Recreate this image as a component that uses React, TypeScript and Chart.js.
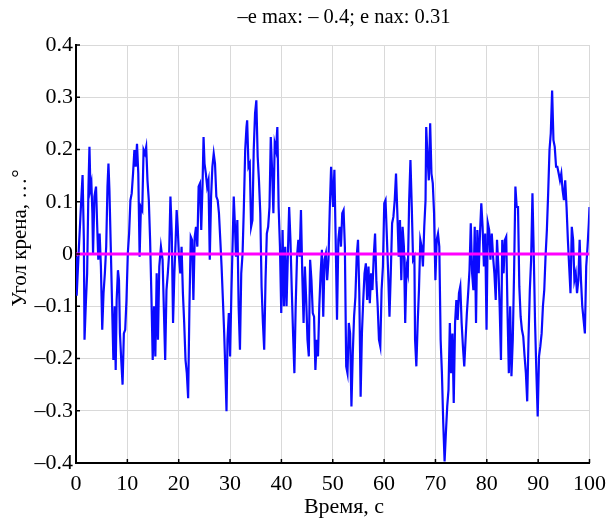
import React, { useEffect, useRef } from "react";
import { Chart, registerables } from "chart.js";

Chart.register(...registerables);

const TITLE = "–e max: – 0.4; e nax: 0.31";
const X_LABEL = "Время, с";
const Y_LABEL = "Угол крена, …°";

const xTickValues = [0, 10, 20, 30, 40, 50, 60, 70, 80, 90, 100];
const xTickLabels = ["0", "10", "20", "30", "40", "50", "60", "70", "80", "90", "100"];
const yTickValues = [-0.4, -0.3, -0.2, -0.1, 0, 0.1, 0.2, 0.3, 0.4];
const yTickLabels = ["–0.4", "–0.3", "–0.2", "–0.1", "0", "0.1", "0.2", "0.3", "0.4"];

// reference (zero) level
const refTime = [0, 100];
const refLevel = [0, 0];

// time, s
const time = [
  0, 0.13, 0.57, 1.02, 1.28, 1.53, 1.66, 1.92, 2.17, 2.43,
  2.62, 2.81, 3.0, 3.19, 3.32, 3.58, 3.9, 4.09, 4.34, 4.6,
  4.85, 5.11, 5.36, 5.62, 5.88, 6.13, 6.32, 6.51, 6.77, 7.02,
  7.28, 7.54, 7.73, 7.92, 8.17, 8.37, 8.56, 8.81, 9.07, 9.32,
  9.58, 9.83, 10.09, 10.34, 10.6, 10.85, 11.11, 11.37, 11.62, 11.88,
  12.13, 12.39, 12.64, 12.9, 13.16, 13.41, 13.67, 13.92, 14.18, 14.43,
  14.69, 14.94, 15.2, 15.45, 15.71, 15.96, 16.22, 16.54, 16.86,
  17.37, 17.62, 17.88, 18.14, 18.39, 18.65, 18.9, 19.16, 19.41, 19.6,
  19.8, 20.05, 20.31, 20.56, 20.82, 21.07, 21.33, 21.58, 21.84, 22.09,
  22.35, 22.61, 22.86, 23.12, 23.37, 23.63, 23.88, 24.14, 24.39, 24.65,
  24.84, 25.03, 25.29, 25.54, 25.8, 26.05, 26.31, 26.56, 26.82, 27.07,
  27.33, 27.59, 27.84, 28.1, 28.35, 28.61, 28.86, 29.12, 29.31, 29.5,
  29.76, 30.01, 30.27, 30.52, 30.72, 30.91, 31.16, 31.42, 31.67, 31.93,
  32.18, 32.44, 32.69, 32.95, 33.2,
  33.33, 33.59, 33.84, 34.1, 34.36, 34.61, 34.87, 35.12, 35.38, 35.63,
  35.89, 36.14, 36.4, 36.65, 36.91, 37.16, 37.42, 37.68, 37.93, 38.19,
  38.44, 38.7, 38.95, 39.21, 39.46, 39.72, 39.97, 40.23, 40.49, 40.74,
  41.0, 41.25, 41.51, 41.76, 42.02, 42.27, 42.53, 42.78, 43.04, 43.3,
  43.55, 43.81, 44.06, 44.32, 44.57, 44.83, 45.08, 45.34, 45.59, 45.85,
  46.11, 46.36, 46.62, 46.87, 47.13, 47.38, 47.64, 47.89, 48.15, 48.4,
  48.66, 48.91, 49.17, 49.43, 49.68,
  50.06, 50.32, 50.57, 50.83, 51.09, 51.34, 51.6, 51.85, 52.11, 52.36,
  52.62, 52.87, 53.13, 53.38, 53.64, 53.9, 54.15, 54.41, 54.66, 54.92,
  55.17, 55.43, 55.68, 55.94, 56.19, 56.45, 56.7, 56.96, 57.22, 57.47,
  57.73, 57.98, 58.24, 58.49, 58.75, 59.0, 59.26, 59.51, 59.77, 60.03,
  60.28, 60.54, 60.79, 61.05, 61.3, 61.56, 61.81, 62.07, 62.32, 62.58,
  62.84, 63.09, 63.35, 63.6, 63.86, 64.11, 64.37, 64.62, 64.88, 65.13,
  65.39, 65.64, 65.9,
  66.03, 66.28, 66.54, 66.79, 67.05, 67.3, 67.56, 67.82, 68.07, 68.2,
  68.45, 68.71, 68.97, 69.22, 69.48, 69.73, 69.99, 70.24, 70.5, 70.75,
  71.01, 71.26, 71.52, 71.78, 72.03, 72.29, 72.54, 72.8, 73.05, 73.31,
  73.56, 73.82, 74.07, 74.33, 74.58, 74.84, 75.1, 75.35, 75.61, 75.86,
  76.12, 76.37, 76.63, 76.88, 77.14, 77.39, 77.65, 77.9, 78.16, 78.42,
  78.67, 78.93, 79.18, 79.44, 79.69, 79.95, 80.2, 80.46, 80.71, 80.97,
  81.22, 81.48, 81.74, 81.99, 82.25, 82.5, 82.76,
  83.01, 83.27, 83.52, 83.78, 84.04, 84.29, 84.55, 84.8, 85.06, 85.31,
  85.57, 85.82, 86.08, 86.33, 86.59, 86.84, 87.1, 87.36, 87.61, 87.87,
  88.12, 88.38, 88.63, 88.89, 89.14, 89.4, 89.66, 89.91, 90.17, 90.42,
  90.68, 90.93, 91.19, 91.44, 91.7, 91.95, 92.21, 92.46, 92.72, 92.98,
  93.23, 93.49, 93.74, 94.0, 94.25, 94.51, 94.76, 95.02, 95.27, 95.53,
  95.79, 96.04, 96.3, 96.55, 96.81, 97.06, 97.32, 97.57, 97.83, 98.08,
  98.34, 98.59, 98.85, 99.1, 99.36, 99.62, 99.87, 100,
];

// roll angle
const roll = [
  -0.005, -0.08, 0.014, 0.103, 0.151, 0.027, -0.164, -0.094, -0.037, 0.129,
  0.205, 0.125, 0.135, 0.078, 0.001, 0.11, 0.129, 0.065, -0.011, 0.039,
  -0.024, -0.145, -0.075, -0.037, 0.014, 0.129, 0.173, 0.122, 0.014, -0.094,
  -0.203, -0.1, -0.222, -0.088, -0.031, -0.05, -0.152, -0.203, -0.25, -0.152,
  -0.145, -0.088, 0.001, 0.039, 0.103, 0.116, 0.154, 0.199, 0.167, 0.211,
  0.154, -0.005, 0.09, 0.084, 0.199, 0.192, 0.205, 0.141, 0.103, 0.027,
  -0.082, -0.203, -0.1, -0.196, -0.037, -0.164, -0.024, 0.014, -0.011,
  -0.203, -0.069, -0.037, 0.001, 0.11, 0.039, -0.132, -0.037, 0.027, 0.084,
  0.052, -0.005, -0.037, 0.014, -0.075, -0.132, -0.203, -0.228, -0.276, -0.1,
  0.033, 0.027, -0.088, 0.033, 0.052, 0.014, 0.129, 0.135, 0.046, 0.135,
  0.224, 0.173, 0.154, 0.129, 0.141, -0.011, 0.11, 0.167, 0.192, 0.173,
  0.11, 0.103, 0.078, 0.027, -0.024, -0.088, -0.152, -0.234, -0.301, -0.164,
  -0.113, -0.196, -0.069, 0.027, 0.11, 0.065, -0.005, 0.065, -0.1, -0.183,
  -0.037, 0.001, 0.09, 0.199, 0.243,
  0.256, 0.167, 0.173, 0.052, 0.065, 0.199, 0.269, 0.294, 0.186, 0.141,
  0.078, -0.062, -0.132, -0.183, -0.05, 0.039, 0.052, 0.09, 0.224, 0.16,
  0.078, 0.211, 0.199, 0.243, 0.09, 0.014, -0.113, 0.046, -0.1, 0.014,
  -0.1, -0.005, 0.09, 0.027, -0.069, -0.152, -0.228, -0.1, -0.005, 0.027,
  -0.005, 0.084, -0.037, -0.132, -0.024, -0.088, -0.164, -0.196, -0.011, -0.05,
  -0.113, -0.12, -0.222, -0.164, -0.196, -0.1, -0.037, 0.008, -0.12, -0.011,
  0.001, -0.05, -0.011, 0.09, 0.167,
  0.09, 0.161, 0.027, -0.126, 0.027, 0.052, 0.014, 0.078, 0.084, 0.014,
  -0.215, -0.228, -0.132, -0.152, -0.292, -0.19, -0.12, -0.082, -0.005, 0.027,
  -0.075, -0.273, -0.152, -0.088, -0.037, -0.018, -0.088, -0.024, -0.094, -0.037,
  -0.069, -0.005, 0.039, -0.05, -0.1, -0.164, -0.177, -0.069, -0.024, 0.097,
  0.103, 0.033, -0.037, -0.12, -0.037, 0.059, 0.071, 0.103, 0.154, 0.078,
  -0.005, 0.065, -0.05, 0.052, 0.014, -0.132, -0.024, -0.037, 0.103, 0.18,
  0.09, -0.011, -0.005,
  -0.164, -0.215, -0.132, -0.069, 0.027, 0.014, -0.024, 0.052, 0.103, 0.243,
  0.186, 0.141, 0.25, 0.154, 0.135, 0.078, -0.05, 0.027, 0.039, 0.014,
  -0.164, -0.228, -0.324, -0.397, -0.343, -0.292, -0.26, -0.132, -0.228, -0.152,
  -0.285, -0.132, -0.088, -0.126, -0.075, -0.062, -0.132, -0.177, -0.215, -0.164,
  -0.113, -0.075, -0.031, 0.059, -0.037, -0.069, 0.052, -0.132, 0.046, -0.037,
  0.039, 0.097, 0.052, -0.024, 0.039, -0.145, 0.059, 0.046, -0.011, 0.039,
  -0.005, -0.037, -0.088, 0.027, -0.024, -0.1, -0.203,
  0.027, -0.037, 0.027, 0.033, -0.113, -0.228, -0.1, -0.234, -0.164, -0.037,
  0.129, 0.09, 0.09, -0.062, -0.12, -0.145, -0.158, -0.196, -0.228, -0.282,
  -0.164, -0.069, -0.011, 0.116, 0.001, -0.132, -0.228, -0.311, -0.196, -0.177,
  -0.152, -0.1, -0.069, -0.005, 0.046, 0.116, 0.199, 0.231, 0.313, 0.218,
  0.205, 0.167, 0.167, 0.154, 0.141, 0.154, 0.122, 0.103, 0.141, 0.09,
  0.027, -0.024, -0.075, 0.052, 0.027, -0.05, -0.037, -0.075, -0.05, 0.027,
  -0.05, -0.1, -0.126, -0.152, -0.024, 0.014, 0.059, 0.09,
];

const FONT_FAMILY = '"Liberation Serif", "Times New Roman", serif';

const textPlugin = {
  id: "textAndTicks",
  afterDraw(chart: any) {
    const { ctx, chartArea, scales } = chart;
    ctx.save();
    // inner tick marks
    ctx.strokeStyle = "#000";
    ctx.lineWidth = 1.5;
    xTickValues.forEach((v) => {
      const px = scales.x.getPixelForValue(v);
      ctx.beginPath();
      ctx.moveTo(px, chartArea.bottom);
      ctx.lineTo(px, chartArea.bottom - 4);
      ctx.stroke();
    });
    yTickValues.forEach((v) => {
      const py = scales.y.getPixelForValue(v);
      ctx.beginPath();
      ctx.moveTo(chartArea.left, py);
      ctx.lineTo(chartArea.left + 4, py);
      ctx.stroke();
    });
    // title
    ctx.fillStyle = "#000";
    ctx.font = `20.5px ${FONT_FAMILY}`;
    ctx.textAlign = "center";
    ctx.textBaseline = "middle";
    ctx.fillText(TITLE, 344, 18);
    // x label
    ctx.font = `22px ${FONT_FAMILY}`;
    ctx.fillText(X_LABEL, 344, 507);
    // y label
    ctx.translate(20, 238);
    ctx.rotate(-Math.PI / 2);
    ctx.font = `21px ${FONT_FAMILY}`;
    ctx.fillText(Y_LABEL, 0, 0);
    ctx.restore();
  },
};

export default function App() {
  const canvasRef = useRef<HTMLCanvasElement | null>(null);

  useEffect(() => {
    document.body.style.margin = "0";
    const canvas = canvasRef.current;
    if (!canvas) return;
    const n = Math.min(time.length, roll.length);
    const series = [];
    for (let i = 0; i < n; i++) series.push({ x: time[i], y: roll[i] });
    const refSeries = refTime.map((x, i) => ({ x, y: refLevel[i] }));

    const chart = new Chart(canvas, {
      type: "line",
      data: {
        datasets: [
          {
            data: refSeries,
            borderColor: "#ff00ff",
            borderWidth: 3,
            pointRadius: 0,
          },
          {
            data: series,
            borderColor: "#0a0aff",
            borderWidth: 2.2,
            pointRadius: 0,
            tension: 0,
          },
        ],
      },
      options: {
        responsive: false,
        animation: false,
        layout: { padding: { left: 0, right: 16, top: 45, bottom: 0 } },
        plugins: {
          legend: { display: false },
          tooltip: { enabled: false },
          title: { display: false },
        },
        scales: {
          x: {
            type: "linear",
            min: 0,
            max: 100,
            afterBuildTicks: (s: any) => {
              s.ticks = xTickValues.map((v) => ({ value: v }));
            },
            afterFit: (s: any) => {
              s.height = 58;
            },
            grid: { color: "#d9d9d9", lineWidth: 1, drawTicks: false },
            border: { color: "#000", width: 2 },
            ticks: {
              autoSkip: false,
              maxRotation: 0,
              padding: 8,
              color: "#000",
              font: { family: FONT_FAMILY, size: 22 },
              callback: (_v: any, i: number) => xTickLabels[i],
            },
          },
          y: {
            type: "linear",
            min: -0.4,
            max: 0.4,
            afterBuildTicks: (s: any) => {
              s.ticks = yTickValues.map((v) => ({ value: v }));
            },
            afterFit: (s: any) => {
              s.width = 76;
            },
            grid: { color: "#d9d9d9", lineWidth: 1, drawTicks: false },
            border: { color: "#000", width: 2 },
            ticks: {
              autoSkip: false,
              padding: 3,
              color: "#000",
              font: { family: FONT_FAMILY, size: 22 },
              callback: (_v: any, i: number) => yTickLabels[i],
            },
          },
        },
      },
      plugins: [textPlugin],
    });
    return () => chart.destroy();
  }, []);

  return (
    <div style={{ width: 614, height: 521, background: "#fff" }}>
      <canvas ref={canvasRef} width={614} height={521} />
    </div>
  );
}
